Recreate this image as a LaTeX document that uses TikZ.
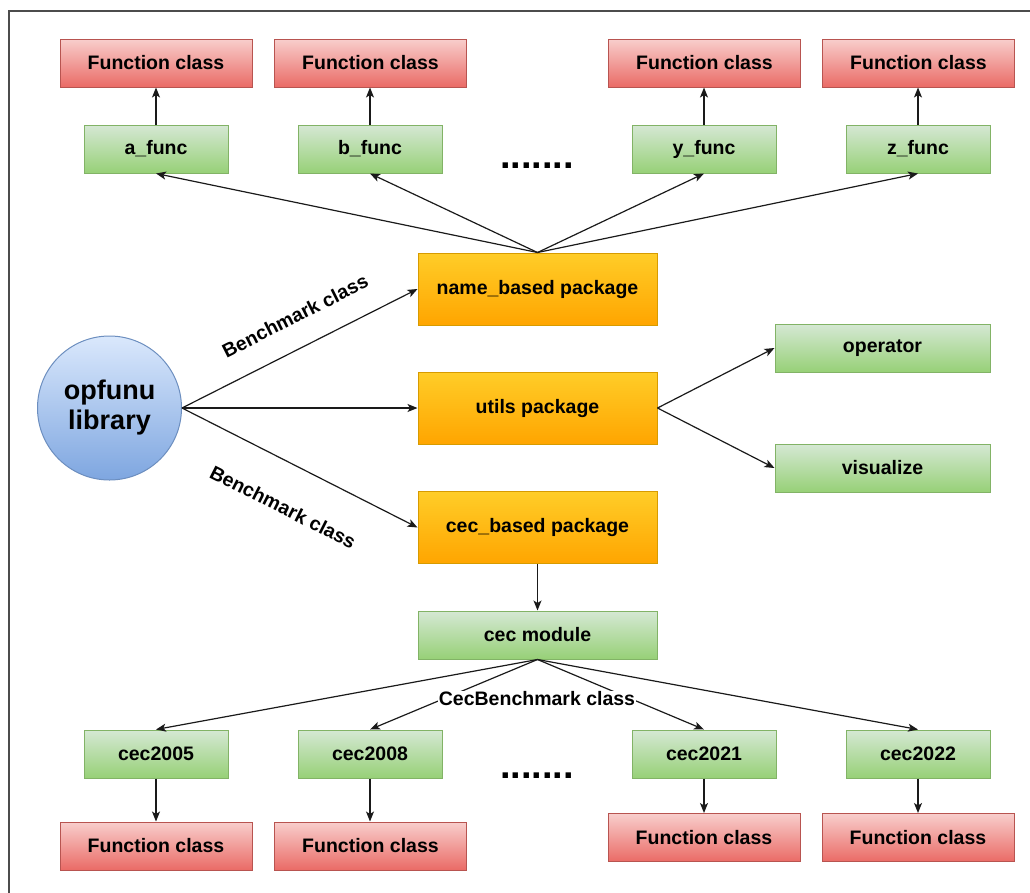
\documentclass[tikz,border=0pt]{standalone}
\usepackage{fontspec}
\setmainfont{Liberation Sans}
\usetikzlibrary{arrows.meta}
\definecolor{redS}{HTML}{B85450}\definecolor{redT}{HTML}{F8CECC}\definecolor{redB}{HTML}{EA6B66}
\definecolor{grnS}{HTML}{82B366}\definecolor{grnT}{HTML}{D5E8D4}\definecolor{grnB}{HTML}{97D077}
\definecolor{orgS}{HTML}{D79B00}\definecolor{orgT}{HTML}{FFCD28}\definecolor{orgB}{HTML}{FFA500}
\definecolor{bluS}{HTML}{6C8EBF}\definecolor{bluT}{HTML}{DAE8FC}\definecolor{bluB}{HTML}{7EA6E0}
\definecolor{edgeC}{HTML}{1A1A1A}
\begin{document}
\begin{tikzpicture}[x=1pt,y=-1pt,
  every node/.style={font=\bfseries\fontsize{19.5}{23}\selectfont, text=black},
  basebox/.style={rectangle, inner sep=0pt, line width=1pt},
  redbox/.style={basebox, draw=redS, top color=redT, bottom color=redB, minimum width=192pt, minimum height=48pt},
  grnbox/.style={basebox, draw=grnS, top color=grnT, bottom color=grnB, minimum width=144pt, minimum height=48pt},
  grnwide/.style={grnbox, minimum width=239pt},
  grnop/.style={grnbox, minimum width=215pt},
  orgbox/.style={basebox, draw=orgS, top color=orgT, bottom color=orgB, minimum width=239pt, minimum height=72pt},
  blucirc/.style={circle, inner sep=0pt, line width=1pt, draw=bluS, top color=bluT, bottom color=bluB, minimum size=144pt, align=center, font=\bfseries\fontsize{27}{30}\selectfont},
  conn/.style={edgeC, line width=1.2pt, -{Stealth[length=10pt,width=8pt,inset=2.5pt]}},
  plainline/.style={edgeC, line width=1.2pt},
  elabel/.style={inner sep=1pt},
  dots/.style={font=\bfseries\fontsize{38}{40}\selectfont, anchor=base, inner sep=0pt}
]
\useasboundingbox (0,0) rectangle (1030,892);
\draw[gray!60!black, line width=1.5pt] (9,900) -- (9,11) -- (1040,11);

% top rows
\node[redbox] (fa) at (156,63) {Function class};
\node[redbox] (fb) at (370.5,63) {Function class};
\node[redbox] (fy) at (704.5,63) {Function class};
\node[redbox] (fz) at (918.5,63) {Function class};
\node[grnbox] (af) at (156,149) {a\_func};
\node[grnbox] (bf) at (370,149) {b\_func};
\node[grnbox] (yf) at (704,149) {y\_func};
\node[grnbox] (zf) at (918,149) {z\_func};
\node[dots] (dtop) at (537,168) {.......};

% middle
\node[blucirc] (lib) at (109.5,408) {opfunu\\library};
\node[orgbox] (nb) at (537.5,289) {name\_based package};
\node[orgbox] (ut) at (537.5,408) {utils package};
\node[orgbox] (cb) at (537.5,527.5) {cec\_based package};
\node[grnop] (op) at (882.5,348) {operator};
\node[grnop] (vi) at (882.5,468) {visualize};
\node[grnwide] (cm) at (537.5,635) {cec module};

% bottom rows
\node[grnbox] (c05) at (156,754) {cec2005};
\node[grnbox] (c08) at (370,754) {cec2008};
\node[grnbox] (c21) at (704,754) {cec2021};
\node[grnbox] (c22) at (918,754) {cec2022};
\node[dots] (dbot) at (537,778) {.......};
\node[redbox] (g05) at (156,846) {Function class};
\node[redbox] (g08) at (370.5,846) {Function class};
\node[redbox] (g21) at (704,837.5) {Function class};
\node[redbox] (g22) at (918,837.5) {Function class};

% connectors top
\draw[conn] (af) -- (fa.south -| af);
\draw[conn] (bf) -- (fb.south -| bf);
\draw[conn] (yf) -- (fy.south -| yf);
\draw[conn] (zf) -- (fz.south -| zf);
\draw[conn] (nb.north) -- (af.south);
\draw[conn] (nb.north) -- (bf.south);
\draw[conn] (nb.north) -- (yf.south);
\draw[conn] (nb.north) -- (zf.south);

% library
\draw[conn] (lib.east) -- (nb.west);
\draw[conn] (lib.east) -- (ut.west);
\draw[conn] (lib.east) -- (cb.west);
\node[elabel, rotate=26.8] (lb1) at (295,316) {Benchmark class};
\node[elabel, rotate=-26.8] (lb2) at (283,507) {Benchmark class};

% utils
\draw[conn] (ut.east) -- (op.west);
\draw[conn] (ut.east) -- (vi.west);

% cec
\draw[conn] (cb.south) -- (cm.north);
\draw[conn] (cm.south) -- (c05.north);
\draw[conn] (cm.south) -- (c08.north);
\draw[conn] (cm.south) -- (c21.north);
\draw[conn] (cm.south) -- (c22.north);
\node[elabel, fill=white] (lcec) at (537,699) {CecBenchmark class};

\draw[conn] (c05) -- (g05.north -| c05);
\draw[conn] (c08) -- (g08.north -| c08);
\draw[conn] (c21) -- (g21.north -| c21);
\draw[conn] (c22) -- (g22.north -| c22);
\end{tikzpicture}
\end{document}
